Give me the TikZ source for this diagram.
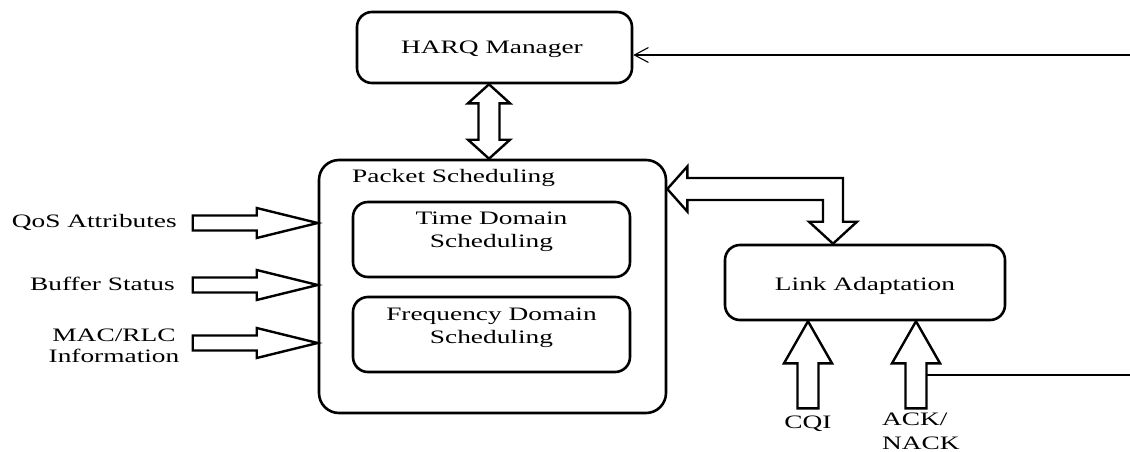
\documentclass[tikz,border=0pt]{standalone}
\usepackage{fontspec}
\setmainfont{Liberation Serif}[FakeStretch=1.44]
\usetikzlibrary{arrows.meta,calc}
\begin{document}
\begin{tikzpicture}[x=1pt,y=-1pt,
  every node/.style={font=\fontsize{19}{21.5}\selectfont, inner sep=0pt},
  box/.style={draw, line width=2.6pt, rounded corners=15pt},
  blockarrow/.style={draw, fill=white, line width=2.4pt, line join=miter},
  thinline/.style={line width=1.3pt},
  pics/rblock/.style={code={
    \draw[blockarrow] (0,0) -- (-61,-15) -- (-61,-7.5) -- (-125,-7.5)
      -- (-125,7.5) -- (-61,7.5) -- (-61,15) -- cycle;}},
  pics/ublock/.style={code={
    \draw[blockarrow] (0,0) -- (24,42) -- (10.5,42) -- (10.5,87)
      -- (-10.5,87) -- (-10.5,42) -- (-24,42) -- cycle;}}
]
\useasboundingbox (0,0) rectangle (1130,452);

% main blocks
\node[box, minimum width=275pt, minimum height=71pt] (harq) at (494.5,47.5) {};
\node[anchor=base] (harqtext) at (492,53.5) {HARQ Manager};
\node[box, minimum width=347pt, minimum height=253pt, rounded corners=20pt] (ps) at (492.5,286.5) {};
\node[anchor=base west] (pstitle) at (352,182) {Packet Scheduling};
\node[box, minimum width=277pt, minimum height=75pt] (td) at (491.5,239.5) {};
\node[align=center] (tdtext) at (491.5,232) {Time Domain\\[1pt]Scheduling};
\node[box, minimum width=277pt, minimum height=75pt] (fd) at (491.5,334.5) {};
\node[align=center] (fdtext) at (491.5,328) {Frequency Domain\\[2pt]Scheduling};
\node[box, minimum width=280pt, minimum height=75pt] (la) at (865,282.5) {};
\node[anchor=base] (latext) at (865,290) {Link Adaptation};

% input labels
\node[anchor=base east] (qos) at (177,227) {QoS Attributes};
\node[anchor=base east] (buf) at (175,290) {Buffer Status};
\node[align=center] (mac) at (114,346) {MAC/RLC\\Information};
\node[anchor=base] (cqi) at (808,428) {CQI};
\node[align=left, anchor=north west] (ack) at (882,413) {ACK/\\[2pt]NACK};

% inputs into the scheduler
\pic at (ps.west |- 0,223) {rblock};
\pic at (ps.west |- 0,285) {rblock};
\pic at (ps.west |- 0,343) {rblock};

% feedback into link adaptation
\coordinate (cqitip) at (la.south -| 808,0);
\coordinate (acktip) at (la.south -| 916,0);
\pic at (cqitip) {ublock};
\pic at (acktip) {ublock};

% HARQ <-> scheduler
\coordinate (dtop) at (harq.south -| 489,0);
\coordinate (dbot) at (ps.north -| 489,0);
\draw[blockarrow] (dtop) -- ($(dtop)+(21,19)$) -- ($(dtop)+(10.5,19)$)
  -- ($(dbot)+(10.5,-19)$) -- ($(dbot)+(21,-19)$) -- (dbot)
  -- ($(dbot)+(-21,-19)$) -- ($(dbot)+(-10.5,-19)$)
  -- ($(dtop)+(-10.5,19)$) -- ($(dtop)+(-21,19)$) -- cycle;

% scheduler <-> link adaptation (elbow)
\coordinate (etip) at (ps.east |- 0,189);
\coordinate (stip) at (la.north -| 833,0);
\coordinate (corner) at (stip |- etip);
\draw[blockarrow] (etip) -- ($(etip)+(20,-22.5)$) -- ($(etip)+(20,-11)$)
  -- ($(corner)+(10,-11)$) -- ($(stip)+(10,-22)$) -- ($(stip)+(24,-22)$)
  -- (stip) -- ($(stip)+(-24,-22)$) -- ($(stip)+(-10,-22)$)
  -- ($(corner)+(-10,11)$) -- ($(etip)+(20,11)$) -- ($(etip)+(20,22.5)$) -- cycle;

% thin feedback lines
\coordinate (harqin) at (1130,55);
\draw[thinline, -{Straight Barb[length=14pt,width=15pt,line width=1.1pt]}] (harqin) -- (harqin -| harq.east);
\coordinate (ackout) at (1130,375);
\draw[thinline] (ackout) -- ($(acktip |- ackout)+(10.5,0)$);
\end{tikzpicture}
\end{document}
